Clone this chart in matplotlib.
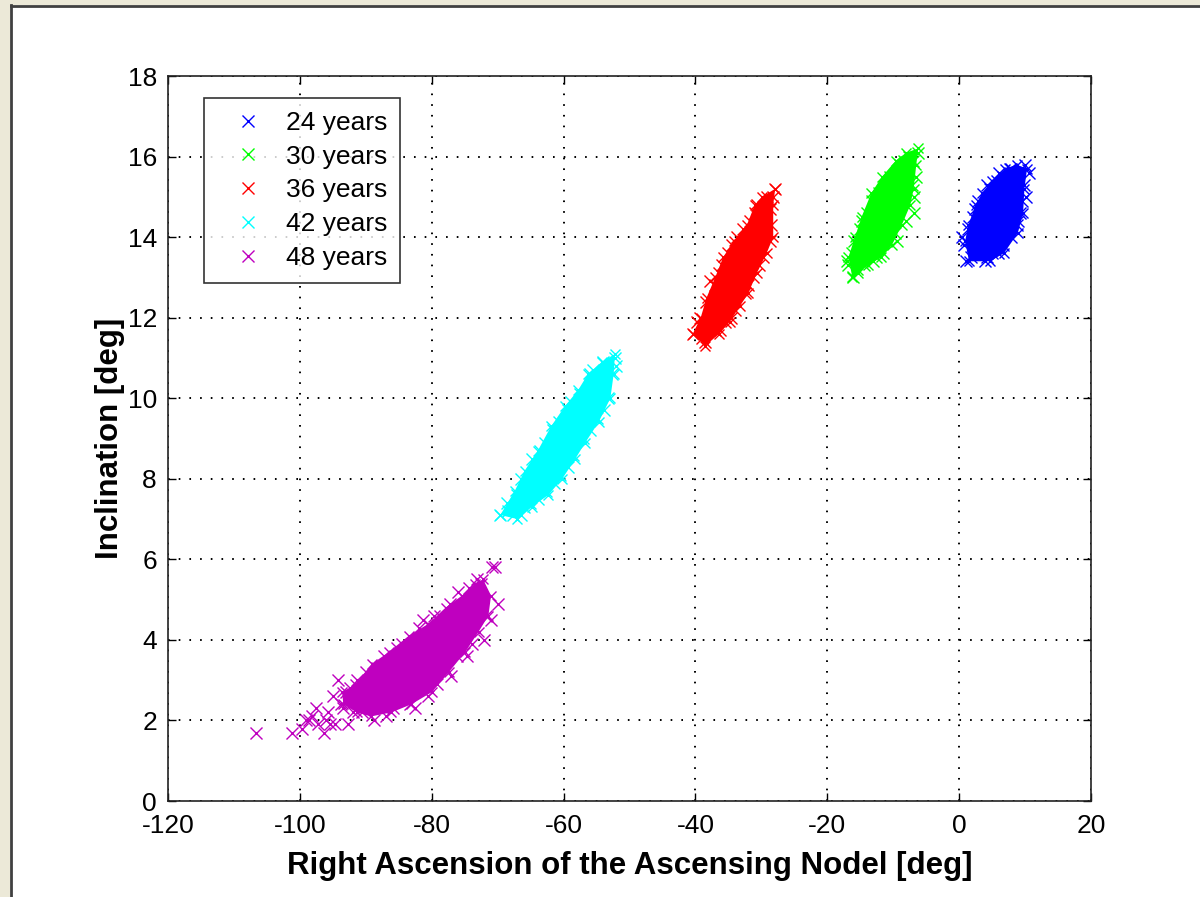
import matplotlib.pyplot as plt
from matplotlib.patches import Rectangle

plt.rcParams['font.family'] = ['Liberation Sans', 'DejaVu Sans']
plt.rcParams['lines.scale_dashes'] = False
plt.rcParams['axes.unicode_minus'] = False

labels = ['24 years', '30 years', '36 years', '42 years', '48 years']
colors = ['#0000FF', '#00FF00', '#FF0000', '#00FFFF', '#BF00BF']

# dense core of each cloud (outline of the solid region)
core_24_x = [1.5, 4.7, 6.8, 8.9, 9.7, 9.9, 10.3, 8.7, 7.0, 5.0, 3.5, 2.5, 1.4, 0.9]
core_24_y = [13.4, 13.4, 13.6, 14.1, 14.6, 15.2, 15.7, 15.8, 15.7, 15.4, 15.1, 14.8, 14.3, 13.9]
core_30_x = [-16.2, -16.8, -15.8, -14.8, -13.3, -11.7, -9.6, -8.0, -6.2,
             -6.5, -6.9, -7.4, -8.7, -10.2, -11.8, -13.8, -15.4]
core_30_y = [13.0, 13.5, 14.0, 14.5, 15.1, 15.5, 15.9, 16.1, 16.2,
             15.8, 15.2, 14.8, 14.3, 13.8, 13.5, 13.3, 13.1]
core_36_x = [-40.4, -39.2, -38.3, -37.0, -35.8, -34.2, -32.2, -31.0, -29.9, -27.9,
             -28.2, -28.2, -29.2, -30.7, -32.0, -33.2, -34.8, -36.4, -38.5]
core_36_y = [11.6, 12.0, 12.5, 13.0, 13.5, 13.9, 14.3, 14.8, 15.0, 15.2,
             14.8, 14.0, 13.6, 13.1, 12.6, 12.3, 11.9, 11.6, 11.3]
core_42_x = [-69.6, -67.4, -65.9, -63.9, -61.9, -59.8, -57.8, -56.3, -54.2, -52.2,
             -52.4, -52.9, -54.7, -56.7, -58.2, -60.2, -62.3, -64.8, -67.0]
core_42_y = [7.1, 7.7, 8.2, 8.7, 9.3, 9.8, 10.2, 10.6, 10.9, 11.1,
             10.6, 10.0, 9.4, 8.9, 8.5, 8.0, 7.6, 7.3, 7.0]
core_48_x = [-93.6, -91.6, -89.1, -86.5, -83.5, -80.5, -77.9, -75.4, -73.4, -72.2,
             -71.0, -71.4, -72.9, -74.9, -77.4, -80.0, -83.1, -86.1, -89.2, -91.4, -93.4]
core_48_y = [2.7, 2.9, 3.4, 3.7, 4.1, 4.4, 4.8, 5.1, 5.4, 5.5,
             5.1, 4.6, 4.2, 3.7, 3.2, 2.7, 2.4, 2.2, 2.1, 2.2, 2.4]

# scattered samples around the edges of each cloud
pts_24_x = [0.5, 1.1, 2.7, 4.2, 5.9, 6.7, 7.9, 9.2, 9.5, 10.6, 10.0, 7.9, 6.7,
            5.7, 4.7, 2.9, 2.1, 1.4, 2.1, 8.7, 7.7, 3.3, 5.0, 8.2, 9.9,
            0.8, 1.8, 3.9, 9.0, 10.1, 6.1, 4.2, 2.4]
pts_24_y = [14.0, 13.4, 13.6, 13.5, 13.6, 13.8, 14.0, 14.6, 14.9, 15.6, 15.8, 15.7, 15.5,
            15.4, 15.2, 14.9, 14.5, 14.2, 13.8, 14.3, 15.7, 13.7, 13.6, 15.6, 15.3,
            13.8, 13.5, 13.4, 14.4, 15.0, 15.6, 15.3, 14.7]
pts_30_x = [-16.8, -16.1, -15.5, -16.3, -15.0, -14.0, -12.2, -10.5, -9.0, -7.6,
            -7.2, -6.9, -6.2, -7.0, -8.0, -9.5, -11.5, -13.0, -14.5, -15.5, -13.2, -8.4,
            -17.0, -16.0, -14.7, -12.8, -10.9, -8.8, -6.6, -6.8, -9.7, -12.6]
pts_30_y = [13.3, 13.0, 13.2, 13.6, 14.2, 14.6, 15.1, 15.5, 15.8, 16.0,
            15.3, 14.6, 16.1, 15.9, 14.4, 13.9, 13.6, 13.4, 13.3, 13.8, 14.9, 15.9,
            13.4, 13.9, 14.4, 14.9, 15.3, 15.6, 15.5, 15.0, 14.1, 13.5]
pts_36_x = [-40.3, -38.6, -39.3, -37.8, -36.5, -35.0, -33.7, -31.7, -30.7, -29.2,
            -27.9, -28.7, -28.7, -29.7, -31.2, -32.5, -34.0, -35.5, -37.0, -39.0, -30.2, -33.0,
            -39.8, -38.4, -37.1, -35.9, -34.4, -32.8, -30.9, -28.2, -28.6, -30.4, -32.0, -34.6, -36.2]
pts_36_y = [11.6, 11.4, 12.0, 12.9, 13.1, 13.6, 14.0, 14.4, 14.8, 15.0,
            15.2, 14.7, 13.9, 13.5, 13.0, 12.6, 12.2, 11.9, 11.7, 11.5, 14.6, 13.7,
            11.9, 12.4, 12.8, 13.3, 13.8, 14.2, 14.6, 15.0, 14.3, 13.3, 12.8, 12.0, 11.7]
pts_42_x = [-69.6, -68.4, -67.6, -67.1, -64.8, -63.6, -61.6, -58.8, -57.5, -56.0,
            -54.0, -52.2, -52.7, -53.2, -55.0, -57.0, -58.5, -60.5, -62.6, -65.1, -66.0, -55.5,
            -68.6, -66.4, -62.8, -60.7, -59.3, -54.9, -52.0, -53.8, -56.0, -59.4, -61.5, -63.9, -66.4]
pts_42_y = [7.1, 7.2, 7.1, 7.6, 8.5, 8.7, 9.2, 9.9, 10.1, 10.6,
            10.9, 11.0, 10.6, 10.0, 9.5, 9.0, 8.6, 8.1, 7.7, 7.4, 7.3, 10.7,
            7.4, 8.0, 8.9, 9.4, 9.7, 10.4, 10.8, 9.7, 9.2, 8.3, 7.9, 7.5, 7.1]
pts_48_x = [-106.7, -101.2, -99.7, -98.2, -96.4, -95.4, -94.7, -97.2, -94.9, -94.2,
            -91.4, -92.7, -91.9, -93.4, -93.7, -90.4, -88.3, -85.3, -81.3, -76.0,
            -73.2, -70.4, -70.9, -69.9, -71.7, -73.9, -76.2, -79.2, -83.0, -83.3,
            -85.8, -89.4, -92.4, -96.0, -98.6, -90.6, -75.0, -78.8,
            -99.0, -97.6, -95.8, -93.0, -90.0, -87.2, -84.5, -82.0, -79.6, -77.3,
            -74.4, -72.5, -71.0, -72.0, -74.6, -77.0, -80.6, -82.6, -86.9, -88.8]
pts_48_y = [1.7, 1.7, 1.8, 2.1, 1.7, 1.9, 1.9, 1.9, 2.6, 3.0,
            3.0, 1.9, 2.2, 2.3, 2.4, 2.3, 3.3, 3.8, 4.5, 5.2,
            5.5, 5.8, 5.8, 4.9, 4.6, 3.9, 3.6, 2.9, 2.8, 2.4,
            2.3, 2.3, 2.8, 2.0, 2.0, 2.2, 4.9, 4.6,
            2.0, 2.3, 2.2, 2.7, 3.2, 3.6, 3.9, 4.3, 4.6, 4.9,
            5.3, 5.4, 4.5, 4.0, 3.6, 3.1, 2.6, 2.3, 2.1, 2.0]

cores = [(core_24_x, core_24_y), (core_30_x, core_30_y), (core_36_x, core_36_y),
         (core_42_x, core_42_y), (core_48_x, core_48_y)]
points = [(pts_24_x, pts_24_y), (pts_30_x, pts_30_y), (pts_36_x, pts_36_y),
          (pts_42_x, pts_42_y), (pts_48_x, pts_48_y)]

fig = plt.figure(figsize=(12, 8.97), dpi=100)
fig.patch.set_facecolor('white')

# window frame strips on the left and top
fig.patches.append(Rectangle((0, 0), 10 / 1200, 1, transform=fig.transFigure,
                             facecolor='#ECE9D8', edgecolor='none', zorder=0))
fig.patches.append(Rectangle((0, 1 - 5 / 897), 1, 5 / 897, transform=fig.transFigure,
                             facecolor='#ECE9D8', edgecolor='none', zorder=0))
fig.add_artist(plt.Line2D([11 / 1200, 11 / 1200], [0, 1 - 5 / 897], color='#404040', lw=2))
fig.add_artist(plt.Line2D([11 / 1200, 1], [1 - 6 / 897, 1 - 6 / 897], color='#404040', lw=2))

ax = fig.add_axes([168 / 1200, 96 / 897, 923 / 1200, 725 / 897])

handles = []
for (cx, cy), (px, py), col, lab in zip(cores, points, colors, labels):
    ax.fill(cx, cy, color=col, lw=0, zorder=2)
    ax.plot(cx, cy, 'x', color=col, ms=7, mew=1, zorder=2)
    h, = ax.plot(px, py, 'x', color=col, ms=8, mew=1, label=lab, zorder=2)
    handles.append(h)

ax.set_xlim(-120, 20)
ax.set_ylim(0, 18)
ax.set_xticks(range(-120, 21, 20))
ax.set_yticks(range(0, 19, 2))

ax.set_axisbelow(True)
ax.grid(True, color='black', lw=1.4, linestyle=(0, (1.2, 6.5)))
ax.tick_params(direction='in', top=True, right=True, length=6, width=1,
               labelsize=19)
ax.tick_params(axis='x', pad=9)
ax.tick_params(axis='y', pad=8)
for s in ax.spines.values():
    s.set_linewidth(1.2)
    s.set_color('#222222')

ax.set_xlabel('Right Ascension of the Ascensing Nodel [deg]', fontsize=22.5,
              fontweight='bold', labelpad=10)
ax.set_ylabel('Inclination [deg]', fontsize=22.5, fontweight='bold', labelpad=2)

leg = ax.legend(handles=handles, loc='upper left', bbox_to_anchor=(0.039, 0.970),
                fontsize=19, frameon=True, fancybox=False, edgecolor='black',
                handlelength=2.3, handletextpad=0.29, labelspacing=0.37,
                borderpad=0.5, borderaxespad=0)
leg.get_frame().set_linewidth(1.2)
leg.set_zorder(5)

fig.savefig('out.png', dpi=100, facecolor='white')
